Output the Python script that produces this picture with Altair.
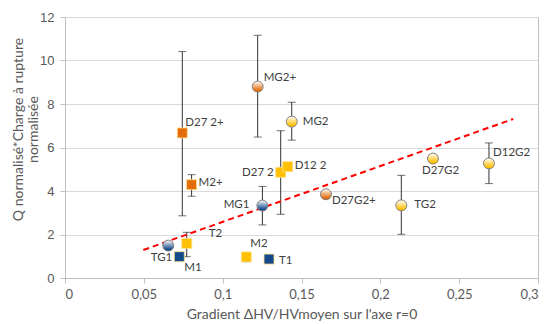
import altair as alt
import pandas as pd

# ---- data ----
labels = ["TG1", "M1", "T2", "D27 2+", "M2+", "M2", "MG2+", "MG1", "T1",
          "D27 2", "D12 2", "MG2", "D27G2+", "TG2", "D27G2", "D12G2"]
x_vals = [0.0655, 0.0725, 0.0772, 0.0744, 0.0803, 0.1150, 0.1222, 0.1252, 0.1294,
          0.1368, 0.1412, 0.1438, 0.1655, 0.2133, 0.2334, 0.2689]
y_vals = [1.49, 0.98, 1.59, 6.67, 4.29, 0.97, 8.80, 3.33, 0.87,
          4.86, 5.12, 7.19, 3.85, 3.34, 5.49, 5.27]
err_low = [1.33, None, 0.98, 2.86, 3.76, 0.75, 6.48, 2.44, None,
           2.93, None, 6.34, 3.75, 2.01, 5.40, 4.34]
err_high = [1.65, None, 2.10, 10.41, 4.75, 0.97, 11.16, 4.21, None,
            6.77, None, 8.08, 3.95, 4.72, 5.60, 6.21]
kinds = ["c_blue", "s_blue", "s_yellow", "s_orange", "s_orange", "s_yellow", "c_orange",
         "c_blue", "s_blue", "s_yellow", "s_yellow", "c_yellow", "c_orange", "c_yellow",
         "c_yellow", "c_yellow"]

trend_x = [0.0497, 0.2843]
trend_y = [1.29, 7.31]

# ---- styling ----
COLORS = {"blue": "#144a8c", "yellow": "#FFC000", "orange": "#E36C09"}
# label offsets (dx, dy, align) in pixels
LABEL_POS = {
    "MG2+": (6, -9, "left"), "MG2": (11, 0, "left"), "D27 2+": (3, -10, "left"),
    "M2+": (7, -2, "left"), "D27 2": (-7, 1, "right"), "D12 2": (7, -1, "left"),
    "MG1": (-13, -1, "right"), "TG1": (4, 12, "right"), "T2": (22, -9, "left"),
    "M1": (5, 11, "left"), "M2": (4, -13, "left"), "T1": (10, 2, "left"),
    "D27G2+": (6, 7, "left"), "TG2": (13, 0, "left"), "D27G2": (-11, 12, "left"),
    "D12G2": (4, -10, "left"),
}
LABEL_FONT = "Lato"

df = pd.DataFrame({"label": labels, "x": x_vals, "y": y_vals,
                   "lo": err_low, "hi": err_high, "kind": kinds})
trend = pd.DataFrame({"x": trend_x, "y": trend_y})

xscale = alt.Scale(domain=[0, 0.3], nice=False, zero=True)
yscale = alt.Scale(domain=[0, 12], nice=False)

x_axis = alt.Axis(
    values=[0, 0.05, 0.1, 0.15, 0.2, 0.25, 0.3],
    labelExpr="replace(format(datum.value, '.2~f'), '.', ',')",
    grid=False, domainColor="#bfbfbf", tickColor="#bfbfbf", tickSize=5,
    labelFont="Lato", labelFontSize=13, labelColor="#595959", labelPadding=5,
    title="Gradient ΔHV/HVmoyen sur l'axe r=0", titleFont="Lato", titleFontSize=14,
    titleFontWeight="normal", titleColor="#595959", titlePadding=6,
)
y_axis = alt.Axis(
    values=[0, 2, 4, 6, 8, 10, 12], grid=True, gridColor="#d9d9d9",
    domainColor="#bfbfbf", tickColor="#bfbfbf", tickSize=5,
    labelFont="Liberation Sans", labelFontSize=13, labelColor="#595959", labelPadding=6,
    title=["Q normalisé*Charge à rupture", "normalisée"], titleFont="Lato",
    titleFontSize=14, titleFontWeight="normal", titleColor="#595959", titlePadding=-1,
    titleLineHeight=15, titleY=112,
)

base = alt.Chart(df)
X = alt.X("x:Q", scale=xscale, axis=x_axis)
Y = alt.Y("y:Q", scale=yscale, axis=y_axis)

err = base.transform_filter("isValid(datum.lo)")
err_rule = err.mark_rule(color="#333333", strokeWidth=1).encode(
    x=alt.X("x:Q", scale=xscale), y=alt.Y("lo:Q", scale=yscale), y2="hi:Q")
cap_lo = err.mark_tick(color="#333333", orient="horizontal", size=8, thickness=1).encode(
    x=alt.X("x:Q", scale=xscale), y=alt.Y("lo:Q", scale=yscale))
cap_hi = err.mark_tick(color="#333333", orient="horizontal", size=8, thickness=1).encode(
    x=alt.X("x:Q", scale=xscale), y=alt.Y("hi:Q", scale=yscale))

trend_line = alt.Chart(trend).mark_line(color="#FF0000", strokeWidth=2,
                                        strokeDash=[6, 4]).encode(
    x=alt.X("x:Q", scale=xscale), y=alt.Y("y:Q", scale=yscale))

layers = [err_rule, cap_lo, cap_hi, trend_line]

for name, col in COLORS.items():
    sq = base.transform_filter(alt.datum.kind == "s_" + name).mark_point(
        shape="square", filled=True, size=100, fill=col, stroke="#ffe08a",
        strokeWidth=0.8, opacity=1).encode(x=X, y=Y)
    grad = alt.LinearGradient(gradient="linear",
                              stops=[alt.GradientStop(color="#ffffff", offset=0),
                                     alt.GradientStop(color=col, offset=0.85)],
                              x1=0, x2=0, y1=0, y2=1)
    ci = base.transform_filter(alt.datum.kind == "c_" + name).mark_point(
        shape="circle", filled=True, size=120, fill=grad, stroke="#808080",
        strokeWidth=1, opacity=1).encode(x=X, y=Y)
    layers += [sq, ci]

for lab in labels:
    dx, dy, al = LABEL_POS[lab]
    t = base.transform_filter(alt.datum.label == lab).mark_text(
        dx=dx, dy=dy, align=al, baseline="middle", font=LABEL_FONT,
        fontSize=11.5, color="#404040").encode(
        x=alt.X("x:Q", scale=xscale), y=alt.Y("y:Q", scale=yscale), text="label:N")
    layers.append(t)

chart = alt.layer(*layers).properties(
    width=473, height=261,
    autosize=alt.AutoSizeParams(type="none"),
    padding={"left": 57, "top": 9, "right": 2, "bottom": 46},
).configure_view(stroke="#bfbfbf", strokeWidth=1)

chart.save("out.html", embed_options={"renderer": "svg", "actions": False})
